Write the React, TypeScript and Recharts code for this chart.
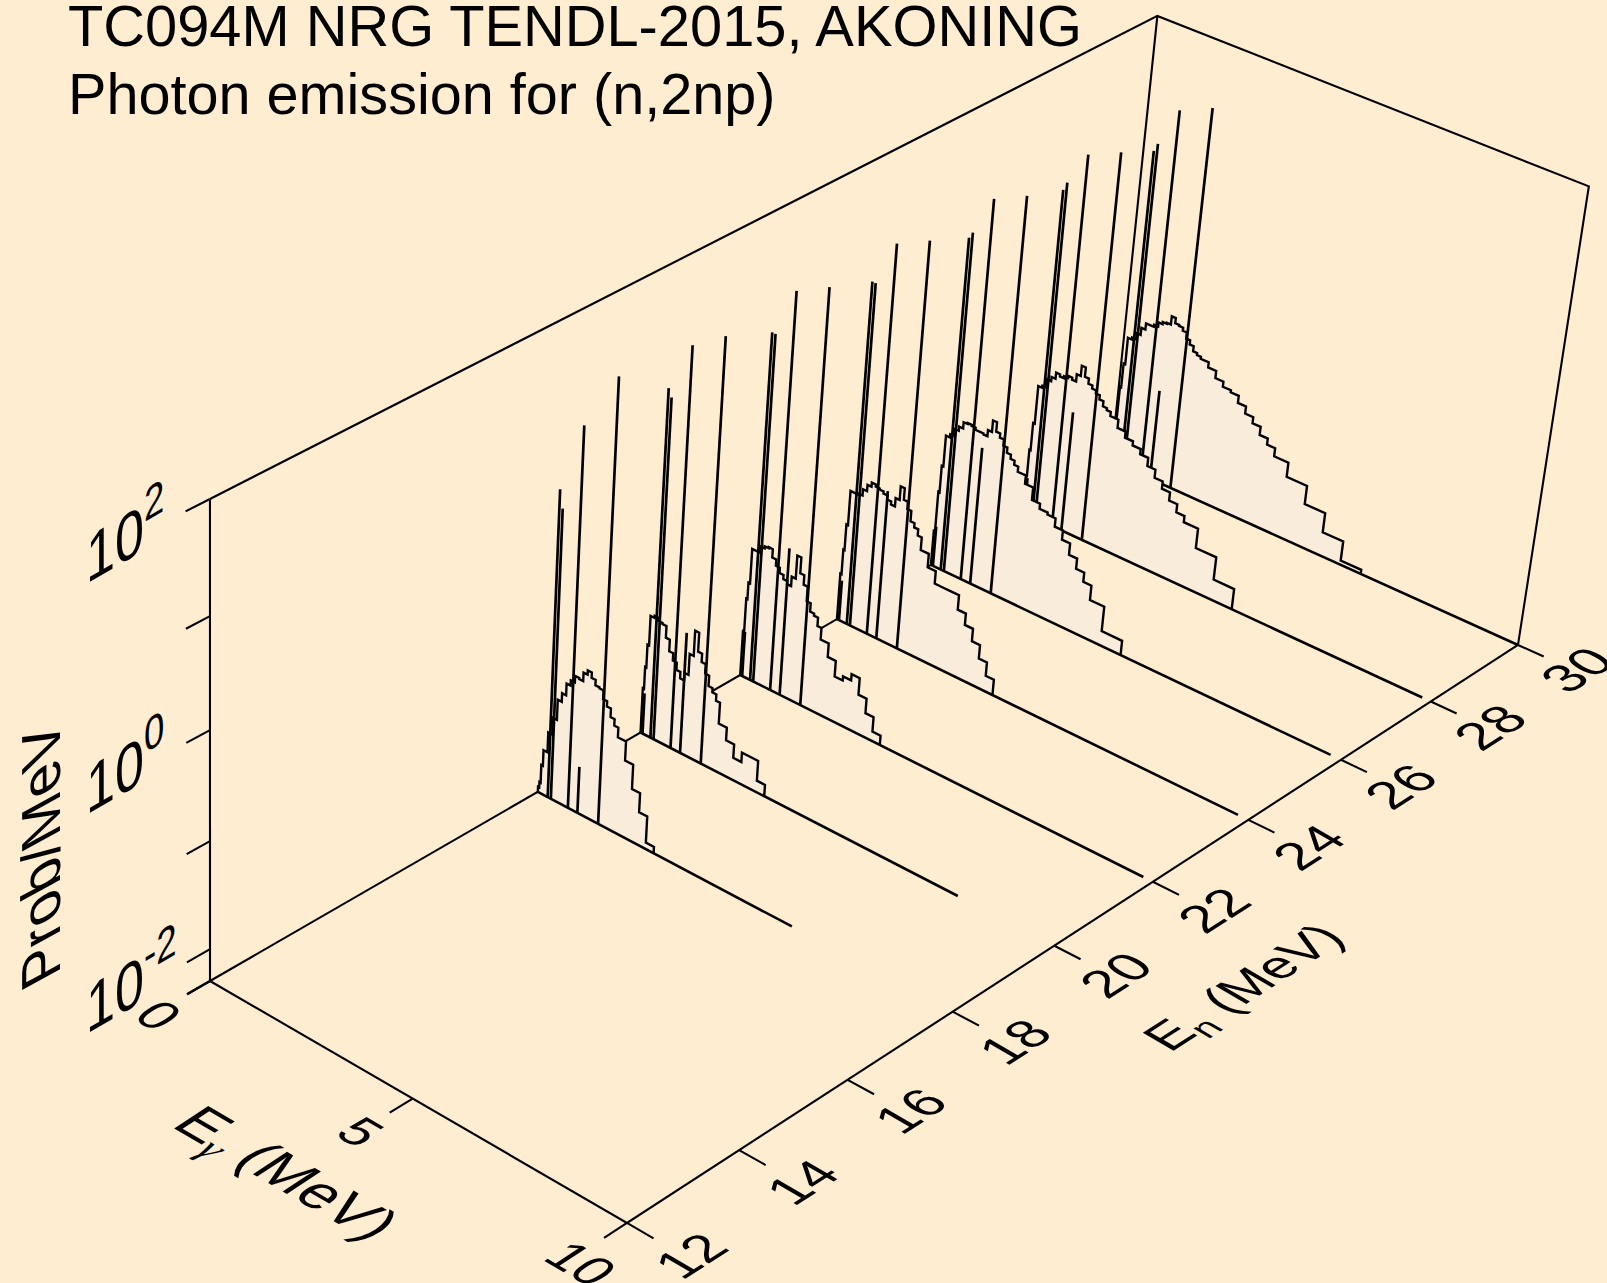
import { Scatter, ScatterChart, XAxis, YAxis } from "recharts";

const W = 1607;
const H = 1283;

// photon energy bin edges (MeV)
const binEdges = [
  0, 0.03, 0.06, 0.1, 0.2, 0.3, 0.4, 0.5, 0.6, 0.7, 0.8, 0.9, 1.0, 1.1, 1.2, 1.3,
  1.4, 1.5, 1.6, 1.7, 1.8, 1.9, 2.1, 2.3, 2.5, 2.7, 2.9, 3.1, 3.3, 3.5, 3.7, 3.9,
  4.25, 4.75, 5.25, 5.75, 6.25,
];

const neutronEnergies = [30, 28, 26, 24, 22, 20, 18];

// log10(prob/MeV) per bin
const hist18 = [-2.25, -2.2, -2.03, -1.88, -1.69, -1.53, -1.34, -1.26, -1.15, -1.1, -1.04, -1.05, -0.97, -0.93, -0.98, -1.03, -1.04, -1.12, -1.17, -1.25, -1.31, -1.4, -1.58, -1.81, -1.99, -2.24];
const hist20 = [-1.87, -1.66, -1.44, -1.16, -1.14, -1.17, -1.18, -1.29, -1.4, -1.47, -1.54, -1.6, -1.53, -1.33, -1.09, -1.27, -1.35, -1.44, -1.54, -1.58, -1.64, -1.84, -1.96, -2.09, -2.0, -2.0, -2.19];
const hist22 = [-1.87, -1.55, -1.39, -1.06, -1.06, -1.0, -0.98, -0.97, -1.05, -1.11, -1.16, -1.2, -1.23, -1.14, -0.92, -1.07, -1.16, -1.3, -1.38, -1.4, -1.48, -1.59, -1.72, -1.87, -1.83, -1.77, -1.93, -2.07, -2.21];
const hist24 = [-1.85, -1.61, -1.36, -1.03, -1.03, -1.02, -0.96, -0.9, -0.86, -0.88, -0.89, -0.91, -0.95, -0.98, -0.9, -0.77, -0.88, -0.95, -1.05, -1.09, -1.15, -1.27, -1.4, -1.52, -1.52, -1.52, -1.66, -1.77, -1.89, -2.02, -2.15];
const hist26 = [-1.96, -1.57, -1.31, -1.01, -0.98, -0.91, -0.87, -0.81, -0.8, -0.81, -0.83, -0.83, -0.84, -0.78, -0.67, -0.76, -0.8, -0.86, -0.91, -0.95, -0.99, -1.04, -1.12, -1.24, -1.29, -1.31, -1.39, -1.48, -1.59, -1.69, -1.78, -1.92, -2.16];
const hist28 = [-1.93, -1.67, -1.4, -1.03, -1.01, -0.93, -0.89, -0.83, -0.85, -0.83, -0.81, -0.83, -0.76, -0.66, -0.75, -0.8, -0.83, -0.86, -0.9, -0.95, -0.97, -1.01, -1.09, -1.15, -1.19, -1.24, -1.32, -1.4, -1.47, -1.55, -1.63, -1.69, -1.88, -2.1];
const hist30 = [-1.87, -1.55, -1.31, -1.05, -1.03, -0.97, -0.9, -0.84, -0.84, -0.82, -0.78, -0.76, -0.75, -0.67, -0.72, -0.73, -0.76, -0.82, -0.86, -0.91, -0.93, -0.95, -1.0, -1.07, -1.12, -1.14, -1.21, -1.28, -1.34, -1.42, -1.48, -1.56, -1.7, -1.88, -2.07, -2.26];

// discrete gamma lines (MeV) and their log10 heights per incident energy
const lineEnergies = [0.05, 0.25, 0.33, 0.76, 1.0, 1.52];
const lines18 = [-2.3, 0.57, 0.41, 1.23, -1.86, 1.79];
const lines20 = [-1.91, 0.97, 0.9, 1.44, -1.15, 1.65];
const lines22 = [-1.87, 0.98, 0.98, 1.44, -0.89, 1.6];
const lines24 = [-1.91, 0.96, 0.96, 1.39, -0.87, 1.54];
const lines26 = [-1.91, 0.89, 0.95, 1.33, -0.97, 1.48];
const lines28 = [-1.95, 0.87, 0.95, 1.28, -1.13, 1.42];
const lines30 = [-1.9, 0.78, 0.86, 1.24, -1.42, 1.38];

// last photon energy on each spectrum's floor line
const floorEnds = [10, 9.8, 9.76, 9.76, 9.78, 7.76, 6.25];

const histograms = [hist30, hist28, hist26, hist24, hist22, hist20, hist18];
const discreteLines = [lines30, lines28, lines26, lines24, lines22, lines20, lines18];

const enTicks = [12, 14, 16, 18, 20, 22, 24, 26, 28, 30];
const egTicks = [0, 5, 10];
const egLabels = [5, 10];
const probTicks = [-2.3, -2, -1, 0, 1, 2];
const probLabels = [-2, 0, 2];

const LOG_MIN = -2.3;
const LOG_MAX = 2;

// perspective camera fitted to the box corners
function project(eg: number, en: number, logP: number) {
  const x = eg / 10;
  const y = (en - 12) / 18;
  const z = (logP - LOG_MIN) / (LOG_MAX - LOG_MIN);
  const w = 1 - 0.0545 * x + 0.1439 * y - 0.056 * z;
  return {
    px: (210 + 382.8 * x + 1060.9 * y - 11.8 * z) / w,
    py: (981 + 175.3 * x - 453.7 * y - 510 * z) / w,
  };
}

const noDot = () => <g />;
const FONT = '"Liberation Sans", Arial, sans-serif';

function lineOf(points: { px: number; py: number }[], key: string, width = 2) {
  return (
    <Scatter
      key={key}
      data={points}
      dataKey="py"
      line={{ stroke: "#000", strokeWidth: width, strokeLinejoin: "miter" }}
      shape={noDot}
      isAnimationActive={false}
    />
  );
}

function outlineOf(values: number[], en: number) {
  const pts = [project(0, en, LOG_MIN)];
  values.forEach((v, i) => {
    pts.push(project(binEdges[i], en, v));
    pts.push(project(binEdges[i + 1], en, v));
  });
  pts.push(project(binEdges[values.length], en, LOG_MIN));
  return pts;
}

function fillOf(points: { px: number; py: number }[], key: string) {
  return (
    <Scatter
      key={key}
      data={points}
      dataKey="py"
      line={(p: any) => (
        <path
          d={"M" + p.points.map((q: any) => `${q.x},${q.y}`).join("L") + "Z"}
          fill="#FAECDB"
          stroke="none"
        />
      )}
      shape={noDot}
      isAnimationActive={false}
    />
  );
}

type Label = {
  text: string;
  sup?: string;
  sub?: string;
  subFont?: string;
  rest?: string;
  size: number;
  m: number[];
};

function labelOf(at: { px: number; py: number }, label: Label, key: string) {
  const [a, b, c, d] = label.m;
  return (
    <Scatter
      key={key}
      data={[at]}
      dataKey="py"
      isAnimationActive={false}
      shape={(p: any) => (
        <text
          transform={`matrix(${a} ${b} ${c} ${d} ${p.cx} ${p.cy})`}
          fontFamily={FONT}
          fontSize={label.size}
          fill="#000"
        >
          {label.text}
          {label.sup && (
            <tspan fontSize={label.size * 0.7} dy={-label.size * 0.42}>
              {label.sup}
            </tspan>
          )}
          {label.sub && (
            <tspan
              fontSize={label.size * 0.7}
              dy={label.size * 0.2}
              fontFamily={label.subFont || FONT}
              fontStyle={label.subFont ? "italic" : "normal"}
            >
              {label.sub}
            </tspan>
          )}
          {label.rest && (
            <tspan dy={-label.size * 0.2}>{label.rest}</tspan>
          )}
        </text>
      )}
    />
  );
}

const EN_MATRIX = [0.84, -0.54, 0.86, 0.5];
const EG_MATRIX = [0.86, 0.5, -0.84, 0.55];
const PROB_MATRIX = [0.87, -0.5, 0, 1.12];

export default function App() {
  const marks: React.ReactNode[] = [];

  // back walls of the box
  marks.push(lineOf([project(0, 12, LOG_MAX), project(0, 30, LOG_MAX), project(10, 30, LOG_MAX), project(10, 30, LOG_MIN)], "walls", 2.1));
  marks.push(lineOf([project(0, 30, LOG_MAX), project(0, 30, LOG_MIN)], "backEdge", 2.1));
  marks.push(lineOf([project(0, 12, LOG_MIN), project(0, 12, LOG_MAX)], "probAxis", 2.1));
  marks.push(lineOf([project(0, 12, LOG_MIN), project(0, 30, LOG_MIN)], "floorBack", 2.1));
  marks.push(lineOf([project(0, 12, LOG_MIN), project(10, 12, LOG_MIN), project(10, 30, LOG_MIN)], "floorFront", 2.1));

  probTicks.forEach((t) => marks.push(lineOf([project(0, 12, t), project(0, 11.6, t)], `pt${t}`, 2.1)));
  egTicks.forEach((t) => marks.push(lineOf([project(t, 12, LOG_MIN), project(t, 11.6, LOG_MIN)], `gt${t}`, 2.1)));
  enTicks.forEach((t) => marks.push(lineOf([project(10, t, LOG_MIN), project(10.6, t, LOG_MIN)], `nt${t}`, 2.1)));

  // spectra painted back to front
  neutronEnergies.forEach((en, s) => {
    const values = histograms[s];
    const outline = outlineOf(values, en);
    marks.push(fillOf(outline, `fill${en}`));
    marks.push(lineOf([project(0, en, LOG_MIN), project(floorEnds[s], en, LOG_MIN)], `floor${en}`, 2.6));
    marks.push(lineOf(outline, `hist${en}`, 2.4));
    lineEnergies.forEach((eg, i) => {
      marks.push(lineOf([project(eg, en, LOG_MIN), project(eg, en, discreteLines[s][i])], `stem${en}-${i}`, 2.7));
    });
  });

  // tick labels
  enTicks.forEach((t) => {
    const p = project(10, t, LOG_MIN);
    const f = (t - 12) / 18;
    marks.push(
      labelOf({ px: p.px + 55 - 5 * f, py: p.py + 58 - 8 * f }, { text: String(t), size: 53, m: EN_MATRIX }, `nl${t}`),
    );
  });
  egLabels.forEach((t) => {
    const p = project(t, 12, LOG_MIN);
    marks.push(
      labelOf({ px: p.px - 74 - 1.2 * t, py: p.py + 36 }, { text: String(t), size: 52, m: EG_MATRIX }, `gl${t}`),
    );
  });
  marks.push(labelOf({ px: 131, py: 1018 }, { text: "0", size: 52, m: EG_MATRIX }, "gl0"));
  probLabels.forEach((t) => {
    const p = project(0, 12, t);
    marks.push(
      labelOf({ px: p.px - 124, py: p.py + 85 }, { text: "10", sup: String(t), size: 60, m: PROB_MATRIX }, `pl${t}`),
    );
  });

  // axis titles
  marks.push(labelOf({ px: 60, py: 974 }, { text: "Prob/MeV", size: 58, m: [0, -1, 0.95, -0.52] }, "ylab"));
  marks.push(labelOf({ px: 170, py: 1126 }, { text: "E", sub: "\u03b3", subFont: '"Liberation Serif", serif', rest: " (MeV)", size: 59, m: EG_MATRIX }, "xlab"));
  marks.push(labelOf({ px: 1170, py: 1053 }, { text: "E", sub: "n", rest: " (MeV)", size: 52, m: EN_MATRIX }, "zlab"));

  // title
  marks.push(labelOf({ px: 68, py: 46 }, { text: "TC094M NRG TENDL-2015, AKONING", size: 57.8, m: [1, 0, 0, 1] }, "t1"));
  marks.push(labelOf({ px: 68, py: 114 }, { text: "Photon emission for (n,2np)", size: 57.6, m: [1, 0, 0, 1] }, "t2"));

  return (
    <div style={{ width: W, height: H, background: "#FFEDD2", overflow: "hidden" }}>
      <style>{"body{margin:0}"}</style>
      <ScatterChart width={W} height={H} margin={{ top: 0, right: 0, bottom: 0, left: 0 }}>
        <XAxis type="number" dataKey="px" domain={[0, W]} hide allowDataOverflow />
        <YAxis type="number" dataKey="py" domain={[0, H]} reversed hide allowDataOverflow />
        {marks}
      </ScatterChart>
    </div>
  );
}
